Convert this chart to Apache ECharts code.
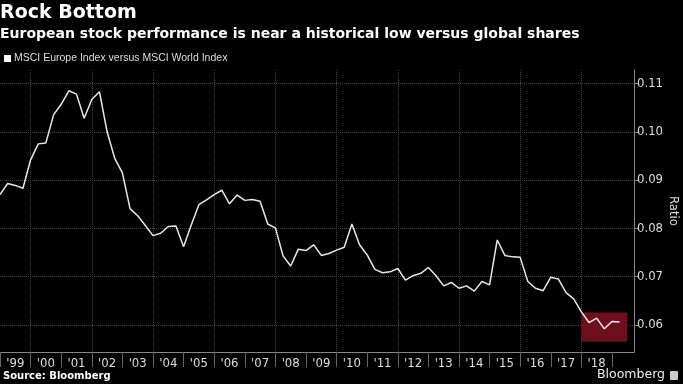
<!DOCTYPE html>
<html><head><meta charset="utf-8">
<script src="https://cdn.jsdelivr.net/npm/echarts@6/dist/echarts.min.js"></script>
<style>html,body{margin:0;padding:0;background:#000;}#c{width:683px;height:384px;}</style>
</head><body><div id="c"></div>
<script>
// Quarterly ratio, MSCI Europe / MSCI World, starting 1999 Q1
const startYear = 1999;
const ratio = [
 0.0870,0.0893,0.0889,0.0883, 0.0942,0.0975,0.0977,0.1035,
 0.1057,0.1085,0.1078,0.1028, 0.1067,0.1083,0.1000,0.0945,
 0.0915,0.0841,0.0826,0.0806, 0.0785,0.0790,0.0804,0.0805,
 0.0762,0.0807,0.0849,0.0859, 0.0870,0.0879,0.0851,0.0869,
 0.0858,0.0860,0.0856,0.0809, 0.0801,0.0743,0.0722,0.0757,
 0.0754,0.0766,0.0744,0.0748, 0.0755,0.0761,0.0809,0.0766,
 0.0745,0.0715,0.0708,0.0710, 0.0717,0.0693,0.0702,0.0707,
 0.0719,0.0702,0.0681,0.0688, 0.0676,0.0681,0.0670,0.0690,
 0.0683,0.0776,0.0744,0.0741, 0.0740,0.0690,0.0676,0.0671,
 0.0699,0.0695,0.0667,0.0654, 0.0627,0.0605,0.0614,0.0592,
 0.0607,0.0606
];
const yearLabels = ["'99","'00","'01","'02","'03","'04","'05","'06","'07","'08","'09","'10","'11","'12","'13","'14","'15","'16","'17","'18"];
const yTicks = [0.06,0.07,0.08,0.09,0.10,0.11];
const highlight = {x0: 2018.0, x1: 2019.5, y0: 0.0565, y1: 0.0626};

const seriesData = ratio.map((v,i)=>[startYear + i/4, v]);
const labelPos = yearLabels.map((_,i)=>startYear + i + 0.5);
const yearTicks = yearLabels.map((_,i)=>startYear + i + 1);
yearTicks.unshift(startYear);
const gridYears = yearTicks.filter(y=>y%2===0);

const lab = "'DejaVu Sans Condensed','DejaVu Sans',sans-serif";
const chart = echarts.init(document.getElementById('c'), null, {renderer:'canvas'});
chart.setOption({
  backgroundColor:'#000',
  animation:false,
  title:[
    {text:'Rock Bottom', left:0, top:4, padding:0, textStyle:{color:'#fff', fontSize:19, fontWeight:'bold', fontFamily:"'DejaVu Sans',sans-serif"}},
    {text:'European stock performance is near a historical low versus global shares', left:0, top:27, padding:0, textStyle:{color:'#fff', fontSize:14, fontWeight:'bold', fontFamily:"'DejaVu Sans',sans-serif"}}
  ],
  legend:{left:4, top:53, padding:0, icon:'rect', itemWidth:7, itemHeight:7, itemGap:4,
    textStyle:{color:'#ddd', fontSize:10.5, fontFamily:"'Liberation Sans',sans-serif", padding:[0,0,0,-2]},
    data:['MSCI Europe Index versus MSCI World Index']},
  grid:{left:0, right:49, top:70, bottom:32, containLabel:false, outerBoundsMode:'none'},
  xAxis:[
    {type:'value', min:1999, max:2019.72,
     axisLine:{show:true, lineStyle:{color:'#888', width:1}},
     axisTick:{show:true, customValues:yearTicks, length:15, lineStyle:{color:'#666'}},
     axisLabel:{customValues:labelPos, color:'#ddd', fontSize:13, fontFamily:lab, margin:5,
       formatter:v=>yearLabels[Math.round(v-0.5-startYear)]},
     splitLine:{show:false}},
    {type:'value', min:1999, max:2019.72, position:'bottom',
     axisLine:{show:false}, axisLabel:{show:false},
     axisTick:{show:false, customValues:gridYears},
     splitLine:{show:true, lineStyle:{color:'#444', type:'dotted', width:1}}}
  ],
  yAxis:{type:'value', position:'right', min:0.0544, max:0.1128,
    name:'Ratio', nameLocation:'middle', nameRotate:-90, nameGap:33, nameMoveOverlap:false,
    nameTextStyle:{color:'#ddd', fontSize:13, fontFamily:lab},
    axisLine:{show:true, lineStyle:{color:'#888'}},
    axisTick:{show:true, customValues:yTicks, length:4, lineStyle:{color:'#888'}},
    axisLabel:{customValues:yTicks, color:'#ddd', fontSize:13, fontFamily:lab, margin:3, formatter:v=>v.toFixed(2)},
    splitLine:{show:true, lineStyle:{color:'#444', type:'dotted', width:1}}},
  series:[{
    name:'MSCI Europe Index versus MSCI World Index', type:'line', xAxisIndex:0,
    data:seriesData, showSymbol:false, symbol:'none',
    itemStyle:{color:'#fff'},
    lineStyle:{color:'#e8e8e8', width:1.5},
    markArea:{silent:true,
      itemStyle:{color:'#6e0f1e'},
      data:[[{coord:[highlight.x0, highlight.y1]},{coord:[highlight.x1, highlight.y0]}]]},
    z:3
  }],
  graphic:[
    {type:'text', left:3, top:371, style:{text:'Source: Bloomberg', fill:'#fff', font:"bold 10px 'DejaVu Sans',sans-serif"}},
    {type:'text', left:597, top:368, style:{text:'Bloomberg', fill:'#eee', font:"12.5px 'DejaVu Sans',sans-serif"}},
    {type:'rect', left:670, top:371, shape:{width:8, height:9, r:1}, style:{fill:'#ccc'}}
  ]
});
</script></body></html>
